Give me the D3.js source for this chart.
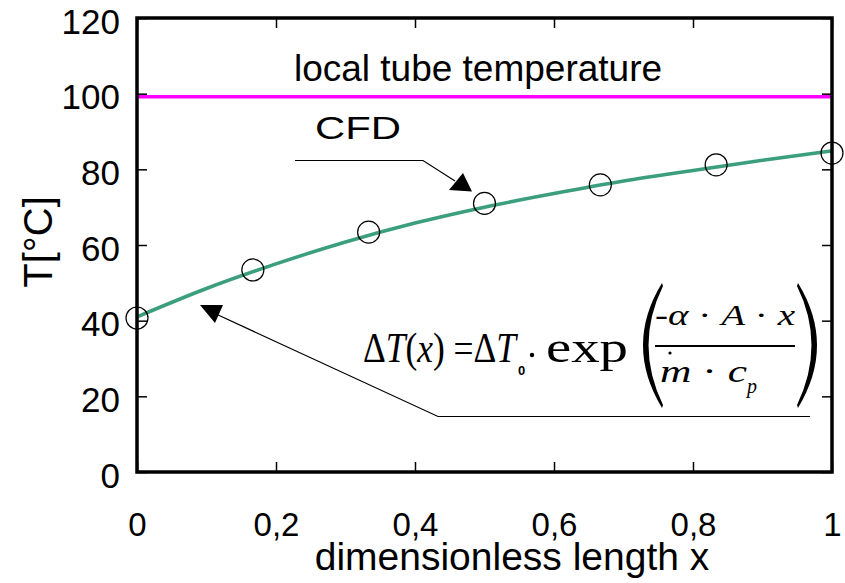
<!DOCTYPE html>
<html>
<head>
<meta charset="utf-8">
<script src="https://cdn.jsdelivr.net/npm/d3@7/dist/d3.min.js"></script>
<style>
body{margin:0;background:#fff}
svg{display:block}
text{font-family:"Liberation Sans",Arial,sans-serif;fill:#000}
.math{font-family:"Liberation Serif","Times New Roman",serif}
</style>
</head>
<body>
<svg id="chart" width="845" height="583"></svg>
<script>
// axis ticks
var xTicks=[0,0.2,0.4,0.6,0.8,1];
var xTickLabels=["0","0,2","0,4","0,6","0,8","1"];
var yTicks=[0,20,40,60,80,100,120];
var yTickLabels=["0","20","40","60","80","100","120"];

// CFD result (green line)
var cfdX=[0,0.1,0.2,0.3,0.4,0.5,0.6,0.7,0.8,0.9,1];
var cfdT=[41.0,48.5,55.0,60.8,65.8,70.0,73.6,76.9,79.7,82.4,84.9];

// analytical model (circles)
var modelX=[0,0.1667,0.3333,0.5,0.6667,0.8333,1];
var modelT=[40.7,53.4,63.4,71.0,75.9,81.2,84.3];

// local tube temperature
var tubeX=[0,1];
var tubeT=[99.2,99.2];

var plotLeft=137, plotRight=832, plotTop=18, plotBottom=472;

var svg=d3.select('#chart');

var x=d3.scaleLinear().domain([0,1]).range([plotLeft,plotRight]);
var y=d3.scaleLinear().domain([0,120]).range([plotBottom,plotTop]);

// ticks (inside, mirrored on all sides)
function styleAxis(g){
	g.select('.domain').remove();
	g.selectAll('.tick line').attr('stroke','#000').attr('stroke-width',1.5);
}

svg.append('g')
	.attr('transform','translate(0,'+plotBottom+')')
	.call(d3.axisBottom(x).tickValues(xTicks).tickSize(-10).tickPadding(0)
		.tickFormat(function(d,i){ return xTickLabels[i]; }))
	.call(styleAxis)
	.call(function(g){
		g.selectAll('.tick text')
		.attr('y',64).attr('dy',0)
		.attr('font-size',33)
		.attr('font-family','"Liberation Sans",Arial,sans-serif')
		.attr('fill','#000');
	});

svg.append('g')
	.attr('transform','translate(0,'+plotTop+')')
	.call(d3.axisTop(x).tickValues(xTicks).tickSize(-10).tickFormat(''))
	.call(styleAxis);

svg.append('g')
	.attr('transform','translate('+plotLeft+',0)')
	.call(d3.axisLeft(y).tickValues(yTicks).tickSize(-10).tickPadding(17)
		.tickFormat(function(d,i){ return yTickLabels[i]; }))
	.call(styleAxis)
	.call(function(g){
		g.selectAll('.tick text')
		.attr('dy',15)
		.attr('font-size',35)
		.attr('font-family','"Liberation Sans",Arial,sans-serif')
		.attr('fill','#000');
	});

svg.append('g')
	.attr('transform','translate('+plotRight+',0)')
	.call(d3.axisRight(y).tickValues(yTicks).tickSize(-10).tickFormat(''))
	.call(styleAxis);

// tube temperature line
var line=d3.line().x(function(d){return x(d[0]);}).y(function(d){return y(d[1]);});

svg.append('path')
	.datum(d3.zip(tubeX,tubeT))
	.attr('d',line)
	.attr('fill','none')
	.attr('stroke','#ff00ff')
	.attr('stroke-width',3.5);

// CFD curve
svg.append('path')
	.datum(d3.zip(cfdX,cfdT))
	.attr('d',line.curve(d3.curveMonotoneX))
	.attr('fill','none')
	.attr('stroke','#3b9e7d')
	.attr('stroke-width',3.5);

// model circles
svg.append('g').selectAll('circle')
	.data(d3.zip(modelX,modelT))
	.enter().append('circle')
	.attr('cx',function(d){return x(d[0]);})
	.attr('cy',function(d){return y(d[1]);})
	.attr('r',11)
	.attr('fill','none')
	.attr('stroke','#000')
	.attr('stroke-width',1.2);

// frame
svg.append('rect')
	.attr('x',plotLeft).attr('y',plotTop)
	.attr('width',plotRight-plotLeft).attr('height',plotBottom-plotTop)
	.attr('fill','none').attr('stroke','#000').attr('stroke-width',3.5);

// axis titles
svg.append('text')
	.attr('x',512).attr('y',570)
	.attr('text-anchor','middle')
	.attr('font-size',39)
	.text('dimensionless length x');

svg.append('text')
	.attr('transform','translate(52,242) rotate(-90)')
	.attr('text-anchor','middle')
	.attr('font-size',40)
	.text('T[°C]');

// annotations
svg.append('text')
	.attr('x',478).attr('y',81)
	.attr('text-anchor','middle')
	.attr('font-size',37)
	.text('local tube temperature');

svg.append('text')
	.attr('x',315).attr('y',139)
	.attr('font-size',31)
	.attr('textLength',86)
	.attr('lengthAdjust','spacingAndGlyphs')
	.text('CFD');

svg.append('polyline')
	.attr('points','295,160.5 423,160.5 455,181')
	.attr('fill','none').attr('stroke','#000').attr('stroke-width',1.2);
svg.append('polygon')
	.attr('points','463,173 449,190 472,191.5')
	.attr('fill','#000');

svg.append('polyline')
	.attr('points','810,416.5 438,416.5 216,314')
	.attr('fill','none').attr('stroke','#000').attr('stroke-width',1.2);
svg.append('polygon')
	.attr('points','200,305 223,305 215,323')
	.attr('fill','#000');

// formula  dT(x) = dT0 * exp(-a*A*x / (m*cp))
var f=svg.append('g').attr('class','formula');

var t1=f.append('text').attr('class','math')
	.attr('x',363).attr('y',362).attr('font-size',42)
	.attr('textLength',153).attr('lengthAdjust','spacingAndGlyphs');
t1.append('tspan').text('Δ');
t1.append('tspan').attr('font-style','italic').text('T');
t1.append('tspan').text('(');
t1.append('tspan').attr('font-style','italic').text('x');
t1.append('tspan').text(') =Δ');
t1.append('tspan').attr('font-style','italic').text('T');

f.append('text')
	.attr('x',518).attr('y',375)
	.attr('font-size',13).attr('font-weight','bold')
	.attr('font-family','"DejaVu Sans",sans-serif')
	.text('0');

f.append('circle').attr('cx',532).attr('cy',355).attr('r',2.2).attr('fill','#000');

f.append('text').attr('class','math')
	.attr('x',546).attr('y',362).attr('font-size',44)
	.attr('textLength',82).attr('lengthAdjust','spacingAndGlyphs')
	.text('exp');

f.append('path')
	.attr('d','M662,283 Q624,345 662,408 L663,405 Q634,345 663,286 Z')
	.attr('fill','#000');
f.append('path')
	.attr('d','M798,283 Q836,345 798,408 L797,405 Q826,345 797,286 Z')
	.attr('fill','#000');

var num=f.append('text').attr('class','math')
	.attr('x',655).attr('y',325).attr('font-size',29)
	.attr('textLength',140).attr('lengthAdjust','spacingAndGlyphs');
num.append('tspan').text('-');
num.append('tspan').attr('font-style','italic').text('α');
num.append('tspan').text(' · ');
num.append('tspan').attr('font-style','italic').text('A');
num.append('tspan').text(' · ');
num.append('tspan').attr('font-style','italic').text('x');

f.append('line')
	.attr('x1',655).attr('x2',795).attr('y1',346).attr('y2',346)
	.attr('stroke','#000').attr('stroke-width',2);

var den=f.append('text').attr('class','math')
	.attr('x',660).attr('y',382).attr('font-size',31)
	.attr('textLength',87).attr('lengthAdjust','spacingAndGlyphs');
den.append('tspan').attr('font-style','italic').text('m');
den.append('tspan').text(' · ');
den.append('tspan').attr('font-style','italic').text('c');

f.append('circle').attr('cx',670).attr('cy',353).attr('r',1.6).attr('fill','#000');

f.append('text').attr('class','math')
	.attr('x',747).attr('y',393).attr('font-size',20)
	.attr('font-style','italic')
	.text('p');
</script>
</body>
</html>
